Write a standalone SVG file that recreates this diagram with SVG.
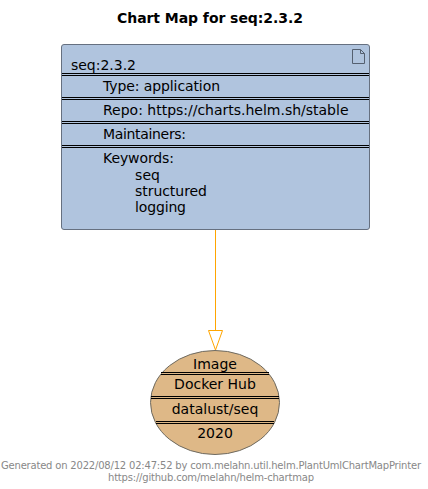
<svg xmlns="http://www.w3.org/2000/svg" width="428" height="489" viewBox="0 0 428 489">
<style>
text{font-family:"DejaVu Sans",sans-serif;font-size:14px;fill:#000}
.foot{font-size:10px;fill:#888}
.sep{stroke:#000;stroke-width:1;fill:none}
</style>
<rect width="428" height="489" fill="#fff"/>
<text id="title" x="117" y="23" textLength="186" style="font-size:14px;font-weight:bold">Chart Map for seq:2.3.2</text>
<g id="connectors">
<line x1="215.500" y1="230" x2="215.500" y2="330" stroke="#FFA500" stroke-width="1"/>
<polygon points="215.500,350 208.500,330.500 222.500,330.500" fill="#fff" stroke="#FFA500" stroke-width="1"/>
</g>
<g id="chart">
<rect x="61.500" y="44.500" width="308" height="185" rx="2.500" fill="#B0C4DE" stroke="#667080" stroke-width="1"/>
<path d="M352.500 49.500h8l4 4v10h-12z M360.500 49.500v4h4" fill="none" stroke="#556070" stroke-width="1"/>
<text x="71" y="70" textLength="65">seq:2.3.2</text>
<path class="sep" d="M62 73.500H369M62 75.500H369M62 97.500H369M62 99.500H369M62 121.500H369M62 123.500H369M62 145.500H369M62 147.500H369"/>
<text x="103" y="91" textLength="117">Type: application</text>
<text x="103" y="115" textLength="245.500">Repo: https://charts.helm.sh/stable</text>
<text x="103" y="139" textLength="83">Maintainers:</text>
<text x="103" y="163" textLength="71">Keywords:</text>
<text x="135" y="180" textLength="25">seq</text>
<text x="135" y="196" textLength="72">structured</text>
<text x="135" y="212" textLength="51">logging</text>
</g>
<g id="image">
<ellipse cx="215" cy="402.500" rx="64.500" ry="52" fill="#DEB887" stroke="#6e6a60" stroke-width="1"/>
<path class="sep" d="M161 372.500H269M161 374.500H269M151 396.500H279M151 398.500H279M156 421.500H274M156 423.500H274"/>
<text x="215" y="369" text-anchor="middle">Image</text>
<text x="215" y="389" text-anchor="middle">Docker Hub</text>
<text x="215" y="414" text-anchor="middle">datalust/seq</text>
<text x="215" y="438" text-anchor="middle">2020</text>
</g>
<g id="footer">
<text class="foot" x="1" y="469" textLength="420">Generated on 2022/08/12 02:47:52 by com.melahn.util.helm.PlantUmlChartMapPrinter</text>
<text class="foot" x="108" y="481" textLength="206">https://github.com/melahn/helm-chartmap</text>
</g>
</svg>
